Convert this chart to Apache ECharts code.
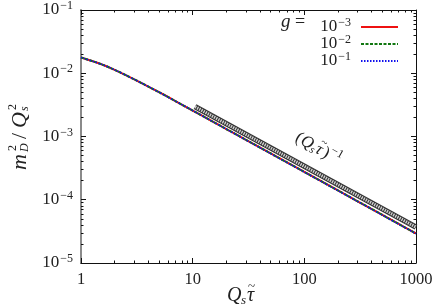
<!DOCTYPE html>
<html><head><meta charset="utf-8">
<script src="https://cdn.jsdelivr.net/npm/echarts@6/dist/echarts.min.js"></script>
<style>html,body{margin:0;padding:0;background:#fff}#c{width:436px;height:308px}</style>
</head><body><div id="c"></div>
<script>
// ---- data ----
const xValues = [1, 1.5, 2, 3, 5, 7, 10, 15, 20, 30, 50, 70, 100, 200, 300, 500, 700, 1000];
const g1e3 = [0.01778, 0.01401, 0.01133, 0.00801, 0.00501, 0.003634, 0.002576, 0.001738, 0.001313, 0.000885, 0.000539, 0.000389, 0.0002748, 0.0001401, 0.0000945, 0.0000575, 0.0000414, 0.0000293];
const g1e2 = [0.01778, 0.01401, 0.01133, 0.00801, 0.00501, 0.003634, 0.002576, 0.001738, 0.001313, 0.000885, 0.000539, 0.000389, 0.0002748, 0.0001401, 0.0000945, 0.0000575, 0.0000414, 0.0000293];
const g1e1 = [0.01778, 0.01401, 0.01133, 0.00801, 0.00501, 0.003630, 0.002570, 0.001732, 0.001308, 0.000881, 0.000536, 0.000387, 0.0002735, 0.0001394, 0.0000940, 0.0000572, 0.0000411, 0.0000291];
const refX = [10.5, 1000];
const refY = [0.00296, 0.0000369];
const seriesNames = ['g=1e-3', 'g=1e-2', 'g=1e-1'];
const seriesExp = [-3, -2, -1];
const xMin = 1, xMax = 1000, yMin = 1e-5, yMax = 0.1;

const FONT = 'Liberation Serif';
const TXT = '#222';
const supRich = {
  sup: {fontFamily: FONT, fontSize: 12, color: TXT, lineHeight: 18, verticalAlign: 'middle', padding: [0, 0, 8, 1]}
};
function expLabel(e) { return '10{sup|' + (e < 0 ? '−' + (-e) : e) + '}'; }
function pow10Label(v) { return expLabel(Math.round(Math.log10(v))); }
function pair(xs, ys) { return xs.map((x, i) => [x, ys[i]]); }
function t(text, x, y, size, italic, extra) {
  return Object.assign({type: 'text', x: x, y: y, style: {
    text: text, fontFamily: FONT, fontSize: size, fontStyle: italic ? 'italic' : 'normal',
    fill: TXT, align: 'left', verticalAlign: 'middle'}}, extra || {});
}

const chart = echarts.init(document.getElementById('c'), null, {renderer: 'canvas'});

const tickCommon = {show: true, inside: true, length: 5, lineStyle: {color: '#111', width: 1}};
const minorCommon = {show: true, splitNumber: 9, length: 2.5, lineStyle: {color: '#111', width: 1}};

chart.setOption({
  animation: false,
  grid: {left: 81, right: 20, top: 7, bottom: 45},
  xAxis: [{
    type: 'log', logBase: 10, min: xMin, max: xMax, position: 'bottom',
    axisLine: {show: true, lineStyle: {color: '#111', width: 1}},
    axisTick: tickCommon, minorTick: minorCommon,
    splitLine: {show: false}, minorSplitLine: {show: false},
    axisLabel: {fontFamily: FONT, fontSize: 16.5, color: TXT, margin: 8,
      formatter: v => String(Math.round(v))}
  }, {
    type: 'log', logBase: 10, min: xMin, max: xMax, position: 'top',
    axisLine: {show: true, lineStyle: {color: '#111', width: 1}},
    axisTick: tickCommon, minorTick: minorCommon,
    splitLine: {show: false}, axisLabel: {show: false}
  }],
  yAxis: [{
    type: 'log', logBase: 10, min: yMin, max: yMax, position: 'left',
    axisLine: {show: true, lineStyle: {color: '#8a8a8a', width: 2}},
    axisTick: tickCommon, minorTick: minorCommon,
    splitLine: {show: false}, minorSplitLine: {show: false},
    axisLabel: {margin: 8, fontFamily: FONT, fontSize: 17, lineHeight: 18, color: TXT, formatter: pow10Label, rich: supRich}
  }, {
    type: 'log', logBase: 10, min: yMin, max: yMax, position: 'right',
    axisLine: {show: true, lineStyle: {color: '#111', width: 1}},
    axisTick: tickCommon, minorTick: minorCommon,
    splitLine: {show: false}, axisLabel: {show: false}
  }],
  legend: {
    orient: 'vertical', right: 37, top: 17, align: 'right', padding: 0,
    itemWidth: 37, itemHeight: 10, itemGap: -3,
    data: seriesNames,
    itemStyle: {opacity: 0},
    formatter: name => expLabel(seriesExp[seriesNames.indexOf(name)]),
    textStyle: {fontFamily: FONT, fontSize: 17, lineHeight: 18, color: TXT, rich: supRich, padding: [0, 5, 0, 0]}
  },
  series: [
    {name: 'ref-outer', type: 'line', data: pair(refX, refY), symbol: 'none',
      lineStyle: {color: '#333', width: 5.5}, silent: true, z: 1},
    {name: 'ref-inner', type: 'line', data: pair(refX, refY), symbol: 'none',
      lineStyle: {color: '#cfcfcf', width: 3.2, type: [1.4, 1]}, silent: true, z: 2},
    {name: seriesNames[0], type: 'line', data: pair(xValues, g1e3), symbol: 'none', smooth: 0.3,
      lineStyle: {color: '#ee1111', width: 2}, itemStyle: {color: '#ee1111'}, z: 3},
    {name: seriesNames[1], type: 'line', data: pair(xValues, g1e2), symbol: 'none', smooth: 0.3,
      lineStyle: {color: '#117711', width: 2, type: [3, 1.5]}, itemStyle: {color: '#117711'}, z: 4},
    {name: seriesNames[2], type: 'line', data: pair(xValues, g1e1), symbol: 'none', smooth: 0.3,
      lineStyle: {color: '#1111ee', width: 1.6, type: [1.5, 1.5]}, itemStyle: {color: '#1111ee'}, z: 5}
  ],
  graphic: [
    // legend title  g =
    t('g', 281, 22, 19, true),
    t('=', 295, 22, 18, false),
    // x axis title  Q_s tau~
    t('Q', 227, 296, 20, true),
    t('s', 241, 301, 13, true),
    t('τ', 247, 296, 20, true),
    t('~', 248, 287, 13, false),
    // y axis title  m_D^2 / Q_s^2 (rotated)
    {type: 'group', x: 20, y: 135, rotation: Math.PI / 2, children: [
      t('m', -35, 0, 22, true),
      t('2', -16, -7, 12, false),
      t('D', -17, 5, 12, true),
      t('/', -4, 0, 22, false),
      t('Q', 7, 0, 22, true),
      t('2', 25, -7, 12, false),
      t('s', 24, 5, 12, true)
    ]},
    // reference line label (Q_s tau~)^-1, rotated
    {type: 'group', x: 320, y: 150, rotation: -0.52, children: [
      t('(', -27, 0, 17, false),
      t('Q', -21, 0, 17, true),
      t('s', -9, 4, 11, true),
      t('τ', -4, 0, 17, true),
      t('~', -3, -8, 11, false),
      t(')', 4, 0, 17, false),
      t('−1', 10, -6, 12, false)
    ]}
  ]
});
</script></body></html>
